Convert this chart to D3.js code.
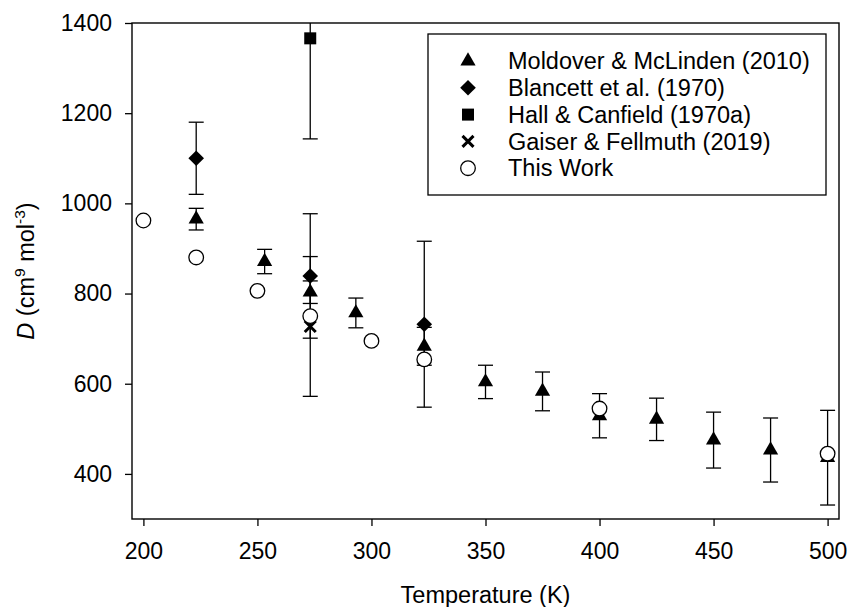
<!DOCTYPE html>
<html>
<head>
<meta charset="utf-8">
<script src="https://cdn.jsdelivr.net/npm/d3@7"></script>
<style>
  body { margin: 0; background: #fff; }
  svg text { font-family: "Liberation Sans", Arial, sans-serif; fill: #000; }
</style>
</head>
<body>
<div id="chart"></div>
<script>
// temperatures (K), D values and uncertainties
const moldoverT = [223.15, 253.15, 273.16, 293.15, 323.15, 350, 375, 400, 425, 450, 475, 500];
const moldoverD = [965, 871, 803, 757, 683, 604, 583, 529, 521, 475, 453, 436];
const moldoverU = [24, 27, 25, 33, 42, 37, 43, 49, 47, 62, 71, 105];

const blancettT = [223.15, 273.15, 323.15];
const blancettD = [1100, 839, 732];
const blancettU = [80, 138, 184];

const hallT = [273.15];
const hallD = [1366];
const hallU = [223];

const gaiserT = [273.16];
const gaiserD = [727];
const gaiserU = [155];

const thisWorkT = [200, 223.15, 250, 273.16, 300, 323.15, 400, 500];
const thisWorkD = [962, 880, 806, 750, 695, 654, 545, 445];

const seriesNames = ["Moldover & McLinden (2010)", "Blancett et al. (1970)", "Hall & Canfield (1970a)",
                     "Gaiser & Fellmuth (2019)", "This Work"];
const seriesShapes = ["triangle", "diamond", "square", "cross", "circle"];

const xTicks = [200, 250, 300, 350, 400, 450, 500];
const yTicks = [400, 600, 800, 1000, 1200, 1400];

const W = 848, H = 607;
const margin = {top: 23, right: 9, bottom: 88, left: 132};

const svg = d3.select("#chart").append("svg").attr("width", W).attr("height", H);

const x = d3.scaleLinear().domain([195, 505]).range([margin.left, W - margin.right]);
const y = d3.scaleLinear().domain([300, 1400]).range([H - margin.bottom, margin.top]);

svg.append("clipPath").attr("id", "plotclip")
  .append("rect")
  .attr("x", x(195)).attr("y", y(1400))
  .attr("width", x(505) - x(195)).attr("height", y(300) - y(1400));

// draws one marker of a given shape at px, py
function marker(g, shape, px, py) {
  if (shape === "triangle") {
    g.append("path")
      .attr("d", d3.symbol().type(d3.symbolTriangle).size(100)())
      .attr("transform", "translate(" + px + "," + py + ")")
      .attr("fill", "#000");
  } else if (shape === "diamond") {
    let r = 7.8;
    g.append("path")
      .attr("d", "M" + px + "," + (py - r) + "L" + (px + r) + "," + py + "L" + px + "," + (py + r) + "L" + (px - r) + "," + py + "Z")
      .attr("fill", "#000");
  } else if (shape === "square") {
    g.append("rect")
      .attr("x", px - 6).attr("y", py - 6).attr("width", 12).attr("height", 12)
      .attr("fill", "#000");
  } else if (shape === "cross") {
    let r = 5.5;
    g.append("path")
      .attr("d", "M" + (px - r) + "," + (py - r) + "L" + (px + r) + "," + (py + r) + "M" + (px + r) + "," + (py - r) + "L" + (px - r) + "," + (py + r))
      .attr("stroke", "#000").attr("stroke-width", 3).attr("fill", "none");
  } else {
    g.append("circle")
      .attr("cx", px).attr("cy", py).attr("r", 7.3)
      .attr("fill", "#fff").attr("stroke", "#000").attr("stroke-width", 1.3);
  }
}

function errorBars(g, ts, ds, us) {
  for (let i = 0; i < ts.length; i++) {
    let px = x(ts[i]);
    let top = y(ds[i] + us[i]), bot = y(ds[i] - us[i]);
    g.append("line").attr("x1", px).attr("x2", px).attr("y1", top).attr("y2", bot);
    g.append("line").attr("x1", px - 7.5).attr("x2", px + 7.5).attr("y1", top).attr("y2", top);
    g.append("line").attr("x1", px - 7.5).attr("x2", px + 7.5).attr("y1", bot).attr("y2", bot);
  }
}

const plot = svg.append("g").attr("clip-path", "url(#plotclip)");

const series = [
  {t: moldoverT, d: moldoverD, u: moldoverU},
  {t: blancettT, d: blancettD, u: blancettU},
  {t: hallT, d: hallD, u: hallU},
  {t: gaiserT, d: gaiserD, u: gaiserU},
  {t: thisWorkT, d: thisWorkD, u: null}
];

series.forEach(function (s, k) {
  let g = plot.append("g");
  if (s.u) {
    let eb = g.append("g").attr("stroke", "#000").attr("stroke-width", 1.3);
    errorBars(eb, s.t, s.d, s.u);
  }
  for (let i = 0; i < s.t.length; i++) {
    marker(g, seriesShapes[k], x(s.t[i]), y(s.d[i]));
  }
});

// axes
const xAxis = svg.append("g")
  .attr("transform", "translate(0," + y(300) + ")")
  .call(d3.axisBottom(x).tickValues(xTicks).tickSize(7).tickPadding(17).tickFormat(d3.format("d")));
const yAxis = svg.append("g")
  .attr("transform", "translate(" + x(195) + ",0)")
  .call(d3.axisLeft(y).tickValues(yTicks).tickSize(7).tickPadding(13).tickFormat(d3.format("d")));

[xAxis, yAxis].forEach(function (a) {
  a.select(".domain").remove();
  a.selectAll(".tick line").attr("stroke", "#000").attr("stroke-width", 1.3);
  a.selectAll(".tick text").attr("font-size", 23).attr("font-family", "Liberation Sans, Arial, sans-serif");
});

// frame
svg.append("rect")
  .attr("x", x(195)).attr("y", y(1400))
  .attr("width", x(505) - x(195)).attr("height", y(300) - y(1400))
  .attr("fill", "none").attr("stroke", "#000").attr("stroke-width", 1.4);

// axis titles
svg.append("text")
  .attr("x", (x(195) + x(505)) / 2).attr("y", 603)
  .attr("text-anchor", "middle").attr("font-size", 23.5)
  .text("Temperature (K)");

const yl = svg.append("text")
  .attr("transform", "translate(34," + ((y(300) + y(1400)) / 2) + ") rotate(-90)")
  .attr("text-anchor", "middle").attr("font-size", 23.5);
yl.append("tspan").attr("font-style", "italic").text("D");
yl.append("tspan").text(" (cm");
yl.append("tspan").attr("font-size", 15.5).attr("dy", -9).text("9");
yl.append("tspan").attr("dy", 9).text(" mol");
yl.append("tspan").attr("font-size", 15.5).attr("dy", -9).text("-3");
yl.append("tspan").attr("dy", 9).text(")");

// legend
const legend = svg.append("g");
legend.append("rect")
  .attr("x", 428).attr("y", 34).attr("width", 398).attr("height", 161)
  .attr("fill", "#fff").attr("stroke", "#000").attr("stroke-width", 1.3);

seriesNames.forEach(function (name, i) {
  let ly = 61 + i * 26.8;
  marker(legend, seriesShapes[i], 468, ly);
  legend.append("text")
    .attr("x", 508).attr("y", ly).attr("dy", "0.35em")
    .attr("font-size", 23.5)
    .text(name);
});
</script>
</body>
</html>
